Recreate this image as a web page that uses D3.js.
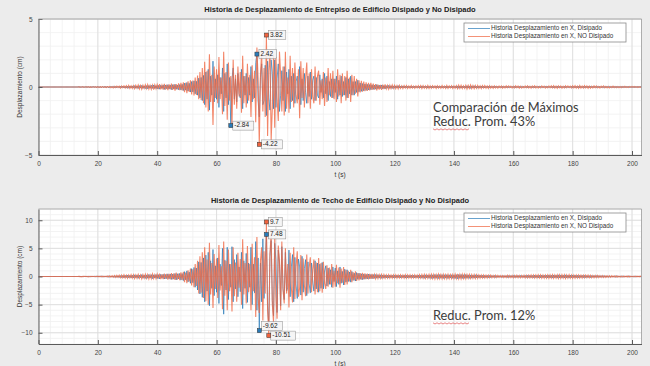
<!DOCTYPE html>
<html>
<head>
<meta charset="utf-8">
<script src="https://cdn.jsdelivr.net/npm/d3@7"></script>
<style>
  html, body { margin: 0; padding: 0; background: #ececec; }
  svg { display: block; font-family: "Liberation Sans", Arial, sans-serif; }
</style>
</head>
<body>
<svg id="chart" width="650" height="366"></svg>
<script>
// paso de tiempo de las muestras (s)
const dt = 0.4;
const xTicks = [0, 20, 40, 60, 80, 100, 120, 140, 160, 180, 200];
const yTicksEntrepiso = [-5, 0, 5];
const yTicksTecho = [-10, -5, 0, 5, 10];

const tituloEntrepiso = "Historia de Desplazamiento de Entrepiso de Edificio Disipado y No Disipado";
const tituloTecho = "Historia de Desplazamiento de Techo de Edificio Disipado y No Disipado";
const leyenda = ["Historia Desplazamiento en X, Disipado", "Historia Desplazamiento en X, NO Disipado"];
const notasEntrepiso = ["Comparación de Máximos", "Reduc. Prom. 43%"];
const notasTecho = ["Reduc. Prom. 12%"];

// desplazamiento de entrepiso (cm), una fila = 4 s
const entrepisoNoDisipado = [
  0,0,0,0,0,0,0,0,0,0,
  0,0,0,0,0,0,0,0,0,0,
  0,0,0,0,0,0,0,0,0,0,
  0,0,0,0,.01,-.01,0,.01,-.01,0,
  .01,-.01,.02,-.01,.01,-.02,.02,-.01,.02,-.02,
  .02,-.03,.02,-.02,.03,-.03,.02,-.04,.03,-.02,
  .04,-.05,.03,-.06,.05,-.04,.07,-.05,.06,-.08,
  .07,-.06,.09,-.08,.1,-.07,.12,-.1,.08,-.11,
  .1,-.13,.12,-.09,.15,-.14,.11,-.16,.13,-.1,
  .16,-.12,.18,-.15,.12,-.17,.14,-.2,.16,-.13,
  .18,-.15,.21,-.17,.14,-.19,.24,-.2,.17,-.23,
  .2,-.18,.25,-.22,.19,-.26,.22,-.18,.27,-.24,
  .3,-.26,.34,-.38,.3,-.45,.42,-.36,.5,-.55,
  .48,-.62,.7,-.58,.85,-.9,1.1,-.95,1.4,-1.2,
  1.86,-1.5,1.2,-1.8,2.4,-1.1,.9,-2.8,1.5,-.8,
  1.3,-1.2,2.2,-.9,.7,-2.0,2.6,-1.4,1.1,-2.4,
  1.8,-1.0,.8,-2.9,2.0,-1.3,.9,-1.6,1.5,-.7,
  1.1,-1.9,2.3,-1.2,.8,-1.5,1.7,-1.0,.9,-2.2,
  1.6,-.9,1.2,-2.6,2.9,.6,-4.22,1.0,2.5,-1.8,
  1.4,-2.2,3.82,-3.6,1.2,2.6,-3.9,-1.5,2.4,-3.0,
  2.2,-.8,-2.5,2.6,.9,-1.8,1.5,-2.1,2.6,-1.6,
  .7,-1.9,2.3,-1.1,1.4,-1.5,1.8,-.6,-1.2,1.3,
  -2.3,1.9,-.8,1.4,-1.5,.6,1.8,-1.2,1.0,-1.6,
  1.3,-.7,-1.2,1.5,-1.0,.8,1.2,-1.3,.5,-.9,
  1.1,-1.4,.7,-1.1,1.4,-.6,1.0,-.8,1.2,-.9,
  .6,-1.1,1.3,-.7,.9,-1.2,1.0,-.6,.8,-1.0,
  1.2,-.8,.7,-1.1,.9,-.6,.8,-.5,.6,-.7,
  .5,-.4,.45,-.35,.4,-.3,.35,-.28,.3,-.25,
  .3,-.22,.25,-.2,.22,-.25,.18,-.2,.15,-.22,
  .18,-.15,.2,-.14,.12,-.16,.13,-.12,.15,-.1,
  .12,-.12,.1,-.14,.12,-.1,.09,-.12,.1,-.08,
  .1,-.1,.08,-.09,.1,-.08,.07,-.1,.08,-.07,
  .09,-.08,.1,-.12,.1,-.09,.08,-.1,.12,-.1,
  .08,-.09,.1,-.07,.08,-.1,.09,-.08,.07,-.09,
  .1,-.08,.07,-.1,.12,-.1,.08,-.07,.09,-.1,
  .08,-.09,.1,-.12,.14,-.1,.12,-.11,.09,-.1,
  .12,-.14,.12,-.1,.15,-.12,.1,-.13,.11,-.1,
  .12,-.1,.09,-.11,.1,-.08,.1,-.09,.08,-.1,
  .09,-.08,.07,-.09,.08,-.07,.06,-.08,.07,-.06,
  .07,-.08,.06,-.07,.08,-.06,.07,-.05,.06,-.07,
  .06,-.07,.08,-.06,.07,-.08,.06,-.07,.05,-.06,
  .07,-.06,.08,-.07,.06,-.08,.07,-.06,.08,-.07,
  .06,-.07,.05,-.06,.07,-.05,.06,-.07,.05,-.06,
  .07,-.06,.08,-.07,.09,-.08,.07,-.09,.08,-.06,
  .07,-.08,.06,-.07,.08,-.06,.07,-.05,.06,-.07,
  .08,-.07,.09,-.08,.07,-.09,.1,-.08,.07,-.08,
  .09,-.07,.08,-.09,.07,-.08,.06,-.07,.08,-.06,
  .07,-.06,.05,-.07,.06,-.05,.07,-.06,.05,-.06,
  .05,-.06,.04,-.05,.06,-.05,.04,-.05,.04,-.05,
  .04,-.05,.04,-.04,.05,-.04,.03,-.04,.04,-.03,
  .04,-.03,.04,-.03,.03,-.04,.03,-.02,.03
];
const entrepisoDisipado = [
  0,0,0,0,0,0,0,0,0,0,
  0,0,0,0,0,0,0,0,0,0,
  0,0,0,0,0,0,0,0,0,0,
  0,0,0,0,.01,0,-.01,.01,0,-.01,
  .01,-.01,.01,-.02,.01,-.01,.02,-.01,.01,-.02,
  .02,-.02,.01,-.03,.02,-.02,.03,-.02,.02,-.03,
  -.03,.04,-.03,.05,-.04,.03,-.05,.04,-.05,.06,
  -.05,.06,-.07,.05,-.08,.06,-.09,.07,-.06,.08,
  -.08,.1,-.09,.07,-.11,.1,-.08,.12,-.1,.08,
  -.12,.1,-.13,.11,-.09,.13,-.1,.15,-.12,.1,
  -.14,.12,-.16,.13,-.11,.15,-.18,.15,-.13,.17,
  -.15,.14,-.19,.17,-.15,.2,-.17,.14,-.2,.18,
  -.22,.2,-.26,.28,-.23,.33,-.3,.27,-.37,.4,
  -.36,.45,-.5,.42,-.6,.65,-.8,.7,-1.0,.85,
  -1.3,1.1,-.9,1.3,-1.7,.8,-.6,1.9,-1.1,.6,
  -.9,.9,-1.5,.7,-.5,1.4,-1.8,1.0,-.8,1.7,
  -1.3,.7,-2.84,.6,1.4,-.9,.6,-1.1,1.0,-.5,
  -.8,1.3,-1.6,.8,-.6,1.0,-1.2,.7,-.6,1.5,
  -1.1,.6,-.8,1.8,2.42,-1.0,-2.2,.7,1.7,-1.3,
  -1.0,1.6,-2.1,1.9,-.8,-1.7,2.0,1.0,-1.6,2.0,
  -1.5,.6,1.7,-1.8,-.6,1.2,-1.0,1.5,-1.8,1.1,
  -.5,1.3,-1.6,.8,-1.0,1.0,-1.2,.4,.8,-.9,
  1.5,-1.3,.6,-1.0,1.0,-.4,-1.2,.8,-.7,1.1,
  -.9,.5,.8,-1.0,.7,-.6,-.8,.9,-.4,.6,
  -.8,1.0,-.5,.8,-1.0,.4,-.7,.6,-.8,.6,
  -.4,.8,-.9,.5,-.6,.8,-.7,.4,-.6,.7,
  -.8,.6,-.5,.8,-.6,.4,-.6,.4,-.4,.5,
  -.35,.3,-.32,.25,-.28,.22,-.25,.2,-.22,.18,
  -.2,.16,-.18,.14,-.16,.18,-.13,.14,-.11,.15,
  -.13,.11,-.14,.1,-.09,.12,-.1,.09,-.11,.08,
  -.09,.08,-.07,.1,-.08,.07,-.06,.08,-.07,.06,
  -.07,.06,-.05,.06,-.07,.05,-.05,.06,-.05,.05,
  -.06,.05,-.07,.08,-.06,.06,-.05,.07,-.08,.06,
  -.05,.06,-.07,.05,-.05,.07,-.06,.05,-.05,.06,
  -.07,.05,-.05,.07,-.08,.06,-.05,.05,-.06,.07,
  -.05,.06,-.07,.08,-.09,.07,-.08,.07,-.06,.07,
  -.08,.09,-.08,.07,-.1,.08,-.07,.09,-.07,.07,
  -.08,.07,-.06,.07,-.07,.05,-.07,.06,-.05,.07,
  -.06,.05,-.05,.06,-.05,.05,-.04,.05,-.05,.04,
  -.05,.05,-.04,.05,-.05,.04,-.05,.04,-.04,.05,
  -.04,.05,-.05,.04,-.05,.05,-.04,.05,-.03,.04,
  -.05,.04,-.05,.05,-.04,.05,-.05,.04,-.05,.05,
  -.04,.05,-.03,.04,-.05,.03,-.04,.05,-.03,.04,
  -.05,.04,-.05,.05,-.06,.05,-.05,.06,-.05,.04,
  -.05,.05,-.04,.05,-.05,.04,-.05,.03,-.04,.05,
  -.05,.05,-.06,.05,-.05,.06,-.06,.05,-.05,.05,
  -.06,.05,-.05,.06,-.05,.05,-.04,.05,-.05,.04,
  -.05,.04,-.03,.05,-.04,.03,-.05,.04,-.03,.04,
  -.03,.04,-.03,.03,-.04,.03,-.03,.03,-.03,.03,
  -.03,.03,-.03,.03,-.03,.03,-.02,.03,-.03,.02,
  -.03,.02,-.03,.02,-.02,.03,-.02,.02,-.02
];

// desplazamiento de techo (cm), una fila = 4 s
const techoNoDisipado = [
  0,0,0,0,0,0,0,0,0,0,
  0,0,0,0,0,0,0,0,0,0,
  0,0,0,0,0,0,0,0,0,0,
  0,0,0,0,.02,-.02,.01,-.02,.02,-.01,
  .03,-.03,.02,-.04,.03,-.02,.04,-.03,.05,-.04,
  .06,-.05,.07,-.06,.05,-.08,.07,-.06,.09,-.08,
  .12,-.1,.15,-.13,.18,-.16,.2,-.15,.22,-.2,
  .25,-.22,.3,-.26,.22,-.3,.28,-.24,.32,-.28,
  .3,-.35,.27,-.32,.38,-.3,.26,-.4,.35,-.3,
  .4,-.33,.36,-.42,.3,-.38,.45,-.35,.32,-.4,
  .42,-.38,.5,-.45,.36,-.48,.52,-.4,.45,-.55,
  .48,-.52,.6,-.5,.55,-.62,.7,-.58,.5,-.65,
  .75,-.6,.85,-1.0,.7,-1.2,1.1,-.9,1.4,-1.6,
  1.3,-1.9,2.2,-1.7,2.8,-3.0,3.6,-2.9,4.3,-3.8,
  5.2,-4.4,3.0,-5.0,6.0,-3.2,2.4,-5.6,4.0,-2.2,
  3.2,-3.8,5.6,-2.5,1.8,-5.8,6.2,-3.4,2.8,-6.0,
  4.8,-2.6,2.2,-6.2,5.2,-3.5,2.5,-4.5,4.2,-2.0,
  3.1,-5.0,6.6,-3.2,2.4,-4.8,5.4,-2.8,2.2,-6.0,
  5.8,-2.6,3.4,-7.2,7.0,-3.8,-6.5,2.8,5.2,-7.8,
  4.5,-3.0,9.7,-6.0,-10.51,4.2,7.5,-5.0,-8.2,6.8,
  -3.5,-7.5,5.5,2.8,-6.0,6.2,-2.4,-4.8,5.0,-3.0,
  2.2,-5.5,4.2,-2.0,-4.6,5.2,-4.0,1.8,4.5,-3.6,
  -2.0,3.8,-4.2,3.2,-1.6,-3.5,3.9,-3.0,1.5,3.4,
  -2.8,1.2,3.0,-3.2,2.5,-2.8,3.3,-2.6,2.4,-2.9,
  2.6,-1.2,-2.2,2.0,-1.8,1.6,-1.4,2.2,-2.0,1.0,
  -1.8,2.1,-1.2,1.6,-2.0,1.4,-1.1,1.7,-1.5,1.2,
  -1.4,1.0,-.9,1.2,-1.0,.8,-.7,.9,-.8,.6,
  -.7,.6,-.55,.65,-.5,.55,-.45,.5,-.5,.45,
  -.4,.45,-.42,.38,-.4,.35,-.38,.32,-.35,.38,
  -.3,.35,-.32,.3,-.28,.32,-.3,.26,-.28,.3,
  -.26,.28,-.3,.25,-.27,.3,-.25,.27,-.3,.32,
  -.28,.3,-.26,.28,-.3,.25,-.27,.3,-.25,.27,
  -.3,.32,-.28,.35,-.3,.38,-.35,.3,-.32,.36,
  -.34,.4,-.35,.38,-.42,.36,-.38,.42,-.4,.35,
  -.38,.4,-.36,.34,-.38,.4,-.35,.32,-.36,.38,
  -.34,.42,-.38,.45,-.4,.38,-.42,.4,-.36,.38,
  -.4,.36,-.34,.38,-.32,.35,-.3,.33,-.36,.3,
  -.32,.28,-.3,.27,-.25,.28,-.26,.24,-.27,.25,
  -.22,.24,-.22,.2,-.23,.21,-.19,.2,-.18,.17,
  -.16,.18,-.2,.17,-.19,.22,-.2,.18,-.21,.19,
  -.22,.2,-.18,.21,-.23,.2,-.22,.19,-.2,.22,
  -.24,.22,-.26,.23,-.25,.27,-.24,.26,-.28,.25,
  -.27,.3,-.26,.28,-.3,.27,-.29,.26,-.28,.3,
  -.32,.3,-.28,.33,-.31,.29,-.3,.32,-.35,.31,
  -.3,.33,-.29,.31,-.34,.3,-.28,.32,-.3,.27,
  -.29,.26,-.3,.27,-.25,.28,-.26,.24,-.27,.25,
  -.23,.25,-.22,.24,-.2,.23,-.21,.2,-.22,.19,
  -.2,.18,-.19,.17,-.18,.16,-.17,.15,-.16,.15,
  -.14,.15,-.13,.14,-.12,.13,-.12,.11,-.12,.1,
  -.11,.1,-.1,.09,-.1,.08,-.09,.08,-.08,.07,
  -.07,.08,-.06,.07,-.06,.05,-.06,.05,-.04
];
const techoDisipado = [
  0,0,0,0,0,0,0,0,0,0,
  0,0,0,0,0,0,0,0,0,0,
  0,0,0,0,0,0,0,0,0,0,
  0,0,0,0,-.01,.02,-.02,.01,-.02,.02,
  -.02,.03,-.03,.02,-.04,.03,-.03,.04,-.04,.05,
  -.05,.06,-.05,.07,-.06,.05,-.07,.06,-.08,.07,
  -.1,.09,-.12,.11,-.15,.13,-.16,.14,-.18,.17,
  -.2,.19,-.25,.22,-.19,.26,-.24,.21,-.27,.24,
  -.26,.3,-.23,.28,-.32,.26,-.22,.34,-.3,.26,
  -.34,.29,-.31,.36,-.26,.33,-.38,.3,-.28,.35,
  -.36,.33,-.43,.39,-.31,.41,-.45,.35,-.39,.47,
  -.41,.45,-.52,.43,-.47,.53,-.6,.5,-.43,.56,
  -.64,.52,-.73,.86,-.6,1.0,-.95,.78,-1.2,1.4,
  -1.1,1.6,-1.9,1.5,-2.4,2.6,-3.1,2.5,-3.7,3.3,
  -4.5,3.8,-2.6,4.3,-5.2,2.8,-2.1,4.8,-3.4,1.9,
  -2.8,3.3,-4.8,2.2,-1.6,5.0,-6.7,2.9,-2.4,5.2,
  -4.1,2.2,-1.9,5.3,-4.5,3.0,-2.2,3.9,-3.6,1.7,
  -2.7,4.3,-5.7,2.8,-2.1,4.1,-4.6,2.4,-1.9,5.2,
  -5.0,2.2,-2.9,6.2,-6.0,3.3,-9.62,2.4,-4.5,6.7,
  -3.9,2.6,7.48,-5.2,-8.6,3.6,6.4,-4.3,-7.0,5.9,
  3.0,-6.4,4.7,2.4,-5.2,5.3,-2.1,-4.1,4.3,-2.6,
  -1.9,4.7,-3.6,1.7,3.9,-4.5,3.4,-1.5,-3.9,3.1,
  1.7,-3.3,3.6,-2.8,1.4,3.0,-3.4,2.6,-1.3,-2.9,
  2.4,-1.0,-2.6,2.8,-2.2,2.4,-2.8,2.2,-2.1,2.5,
  -2.2,1.0,1.9,-1.7,1.5,-1.4,1.2,-1.9,1.7,-.9,
  1.5,-1.8,1.0,-1.4,1.7,-1.2,.9,-1.5,1.3,-1.0,
  1.2,-.9,.8,-1.0,.9,-.7,.6,-.8,.7,-.5,
  .6,-.5,.48,-.56,.44,-.48,.4,-.44,.43,-.39,
  .35,-.39,.36,-.33,.35,-.3,.33,-.28,.3,-.33,
  .26,-.3,.28,-.26,.24,-.28,.26,-.22,.24,-.26,
  .22,-.24,.26,-.22,.23,-.26,.22,-.23,.26,-.28,
  .24,-.26,.22,-.24,.26,-.22,.23,-.26,.22,-.23,
  .26,-.28,.24,-.3,.26,-.33,.3,-.26,.28,-.31,
  .29,-.35,.3,-.33,.36,-.31,.33,-.36,.35,-.3,
  .33,-.35,.31,-.29,.33,-.35,.3,-.28,.31,-.33,
  .29,-.36,.33,-.39,.35,-.33,.36,-.35,.31,-.33,
  .35,-.31,.29,-.33,.28,-.3,.26,-.29,.31,-.26,
  .28,-.24,.26,-.23,.22,-.24,.22,-.21,.23,-.22,
  .19,-.21,.19,-.17,.2,-.18,.16,-.17,.16,-.15,
  .14,-.16,.17,-.15,.16,-.19,.17,-.16,.18,-.16,
  .19,-.17,.16,-.18,.2,-.17,.19,-.16,.17,-.19,
  .21,-.19,.22,-.2,.22,-.23,.21,-.22,.24,-.22,
  .23,-.26,.22,-.24,.26,-.23,.25,-.22,.24,-.26,
  .28,-.26,.24,-.28,.27,-.25,.26,-.28,.3,-.27,
  .26,-.28,.25,-.27,.29,-.26,.24,-.28,.26,-.23,
  .25,-.22,.26,-.23,.22,-.24,.22,-.21,.23,-.22,
  .2,-.22,.19,-.21,.17,-.2,.18,-.17,.19,-.16,
  .17,-.16,.16,-.15,.16,-.14,.15,-.13,.14,-.13,
  .12,-.13,.11,-.12,.1,-.11,.1,-.1,.1,-.09,
  .09,-.09,.08,-.08,.08,-.07,.08,-.07,.07,-.06,
  .06,-.07,.05,-.06,.05,-.05,.05,-.04,.04
];

const colorDisipado = "#2a7bb8";
const colorNoDisipado = "#f0643f";

const svg = d3.select("#chart");
const width = 650;
const height = 366;
const left = 38.5;
const right = 641.5;

svg.append("rect").attr("width", width).attr("height", height).attr("fill", "#ececec");

const x = d3.scaleLinear()
  .domain([0, (entrepisoDisipado.length - 1) * dt])
  .range([left, right]);

function buildPanel(cfg, idx) {
  const y = d3.scaleLinear().domain(cfg.yDomain).range([cfg.bottom, cfg.top]);
  const g = svg.append("g");

  g.append("rect")
    .attr("x", left).attr("y", cfg.top)
    .attr("width", right - left).attr("height", cfg.bottom - cfg.top)
    .attr("fill", "#fff");

  // minor grid
  g.append("g").selectAll("line")
    .data(d3.range(0, x.domain()[1], 4))
    .join("line")
    .attr("x1", d => x(d)).attr("x2", d => x(d))
    .attr("y1", cfg.top).attr("y2", cfg.bottom)
    .attr("stroke", "#f0f0f0").attr("stroke-width", 0.8);
  g.append("g").selectAll("line")
    .data(d3.range(cfg.yDomain[0], cfg.yDomain[1] + 1, 1))
    .join("line")
    .attr("x1", left).attr("x2", right)
    .attr("y1", d => y(d)).attr("y2", d => y(d))
    .attr("stroke", "#f0f0f0").attr("stroke-width", 0.8);

  // major grid
  g.append("g").selectAll("line")
    .data(xTicks)
    .join("line")
    .attr("x1", d => x(d)).attr("x2", d => x(d))
    .attr("y1", cfg.top).attr("y2", cfg.bottom)
    .attr("stroke", "#dadada").attr("stroke-width", 0.8);
  g.append("g").selectAll("line")
    .data(cfg.yTicks)
    .join("line")
    .attr("x1", left).attr("x2", right)
    .attr("y1", d => y(d)).attr("y2", d => y(d))
    .attr("stroke", "#dadada").attr("stroke-width", 0.8);

  svg.append("clipPath").attr("id", "clip" + idx)
    .append("rect")
    .attr("x", left).attr("y", cfg.top)
    .attr("width", right - left).attr("height", cfg.bottom - cfg.top);

  const line = d3.line()
    .x((d, i) => x(i * dt))
    .y(d => y(d));

  const lineGroup = g.append("g").attr("clip-path", `url(#clip${idx})`);
  lineGroup.append("path")
    .datum(cfg.disipado)
    .attr("fill", "none")
    .attr("stroke", colorDisipado)
    .attr("stroke-opacity", 0.7)
    .attr("stroke-width", 1)
    .attr("d", line);
  lineGroup.append("path")
    .datum(cfg.noDisipado)
    .attr("fill", "none")
    .attr("stroke", colorNoDisipado)
    .attr("stroke-opacity", 0.78)
    .attr("stroke-width", 1.1)
    .attr("d", line);

  // axes
  const xAxis = g.append("g")
    .attr("transform", `translate(0,${cfg.bottom})`)
    .call(d3.axisBottom(x).tickValues(xTicks).tickSizeInner(-4).tickSizeOuter(0).tickPadding(6));
  const yAxis = g.append("g")
    .attr("transform", `translate(${left},0)`)
    .call(d3.axisLeft(y).tickValues(cfg.yTicks).tickSizeInner(-4).tickSizeOuter(0).tickPadding(6));
  [xAxis, yAxis].forEach(a => {
    a.select(".domain").attr("stroke", "#5a5a5a");
    a.selectAll(".tick line").attr("stroke", "#5a5a5a");
    a.selectAll("text").attr("fill", "#444").style("font-size", "6.5px");
  });
  g.append("line")
    .attr("x1", left).attr("x2", right).attr("y1", cfg.top).attr("y2", cfg.top)
    .attr("stroke", "#9a9a9a").attr("stroke-width", 0.8);
  g.append("line")
    .attr("x1", right).attr("x2", right).attr("y1", cfg.top).attr("y2", cfg.bottom)
    .attr("stroke", "#9a9a9a").attr("stroke-width", 0.8);

  g.append("text")
    .attr("x", (left + right) / 2).attr("y", cfg.titleY)
    .attr("text-anchor", "middle").attr("dominant-baseline", "middle")
    .attr("font-weight", "bold").attr("font-size", "7.5px").attr("fill", "#222")
    .text(cfg.title);

  g.append("text")
    .attr("x", (left + right) / 2).attr("y", cfg.xLabelY)
    .attr("text-anchor", "middle").attr("dominant-baseline", "middle")
    .attr("font-size", "6.5px").attr("fill", "#333")
    .text("t (s)");

  g.append("text")
    .attr("transform", `translate(20,${(cfg.top + cfg.bottom) / 2}) rotate(-90)`)
    .attr("text-anchor", "middle").attr("dominant-baseline", "middle")
    .attr("font-size", "6.5px").attr("fill", "#333")
    .text("Desplazamiento (cm)");

  // legend
  const lg = g.append("g").attr("transform", `translate(464,${cfg.top + 4})`);
  lg.append("rect").attr("width", 162).attr("height", 19)
    .attr("fill", "#fff").attr("stroke", "#8a8a8a").attr("stroke-width", 0.8);
  [colorDisipado, colorNoDisipado].forEach((c, i) => {
    lg.append("line")
      .attr("x1", 4).attr("x2", 26).attr("y1", 5.5 + i * 8).attr("y2", 5.5 + i * 8)
      .attr("stroke", c).attr("stroke-opacity", 0.7).attr("stroke-width", 1);
    lg.append("text")
      .attr("x", 27).attr("y", 5.5 + i * 8)
      .attr("dominant-baseline", "middle")
      .attr("font-size", "6.3px").attr("fill", "#333")
      .text(leyenda[i]);
  });

  // data tips: max and min of each series
  const tips = [];
  [[cfg.disipado, colorDisipado], [cfg.noDisipado, colorNoDisipado]].forEach(([s, c]) => {
    tips.push({ i: d3.maxIndex(s), v: d3.max(s), c });
    tips.push({ i: d3.minIndex(s), v: d3.min(s), c });
  });
  tips.forEach(d => {
    d.px = x(d.i * dt);
    d.py = y(d.v);
    d.ly = d.py;
    d.label = String(d.v);
    d.w = d.label.length * 3.6 + 3;
  });
  // push colliding labels upward
  const placed = [];
  tips.sort((a, b) => b.py - a.py).forEach(d => {
    let moved = true;
    while (moved) {
      moved = false;
      placed.forEach(p => {
        const overlapX = d.px + 2 < p.px + 2 + p.w && p.px + 2 < d.px + 2 + d.w;
        if (overlapX && Math.abs(d.ly - p.ly) < 9) {
          d.ly = p.ly - 9.5;
          moved = true;
        }
      });
    }
    placed.push(d);
  });
  const tg = g.append("g");
  tips.forEach(d => {
    tg.append("rect")
      .attr("x", d.px + 2).attr("y", d.ly - 4.5)
      .attr("width", d.w).attr("height", 9)
      .attr("fill", "#f4f4f4").attr("fill-opacity", 0.9)
      .attr("stroke", "#8a8a8a").attr("stroke-width", 0.5);
    tg.append("text")
      .attr("x", d.px + 3.5).attr("y", d.ly)
      .attr("dominant-baseline", "middle")
      .attr("font-size", "6.5px").attr("fill", "#222")
      .text(d.label);
    tg.append("rect")
      .attr("x", d.px - 2).attr("y", d.py - 2)
      .attr("width", 4).attr("height", 4)
      .attr("fill", d.c).attr("stroke", "#333").attr("stroke-width", 0.5);
  });

  // annotation text
  cfg.notas.forEach((t, i) => {
    const ty = cfg.notaY + i * 14.5;
    g.append("text")
      .attr("x", 433).attr("y", ty)
      .attr("font-family", "Lato, 'Open Sans', sans-serif")
      .attr("font-size", "12.8px").attr("fill", "#3c3c3c")
      .text(t);
    if (t.startsWith("Reduc.")) {
      const wave = d3.range(0, 38, 2).map((k, j) => [433 + k, ty + 3 + (j % 2 ? 1 : -0.2)]);
      g.append("path")
        .attr("d", d3.line()(wave))
        .attr("fill", "none").attr("stroke", "#e05050").attr("stroke-width", 0.7);
    }
  });
}

const paneles = [
  { top: 19, bottom: 155, yDomain: [-5, 5], yTicks: yTicksEntrepiso, title: tituloEntrepiso,
    disipado: entrepisoDisipado, noDisipado: entrepisoNoDisipado,
    titleY: 10, xLabelY: 175, notas: notasEntrepiso, notaY: 111.5 },
  { top: 209, bottom: 344, yDomain: [-12, 12], yTicks: yTicksTecho, title: tituloTecho,
    disipado: techoDisipado, noDisipado: techoNoDisipado,
    titleY: 201, xLabelY: 364, notas: notasTecho, notaY: 320 }
];

paneles.forEach(buildPanel);
</script>
</body>
</html>
